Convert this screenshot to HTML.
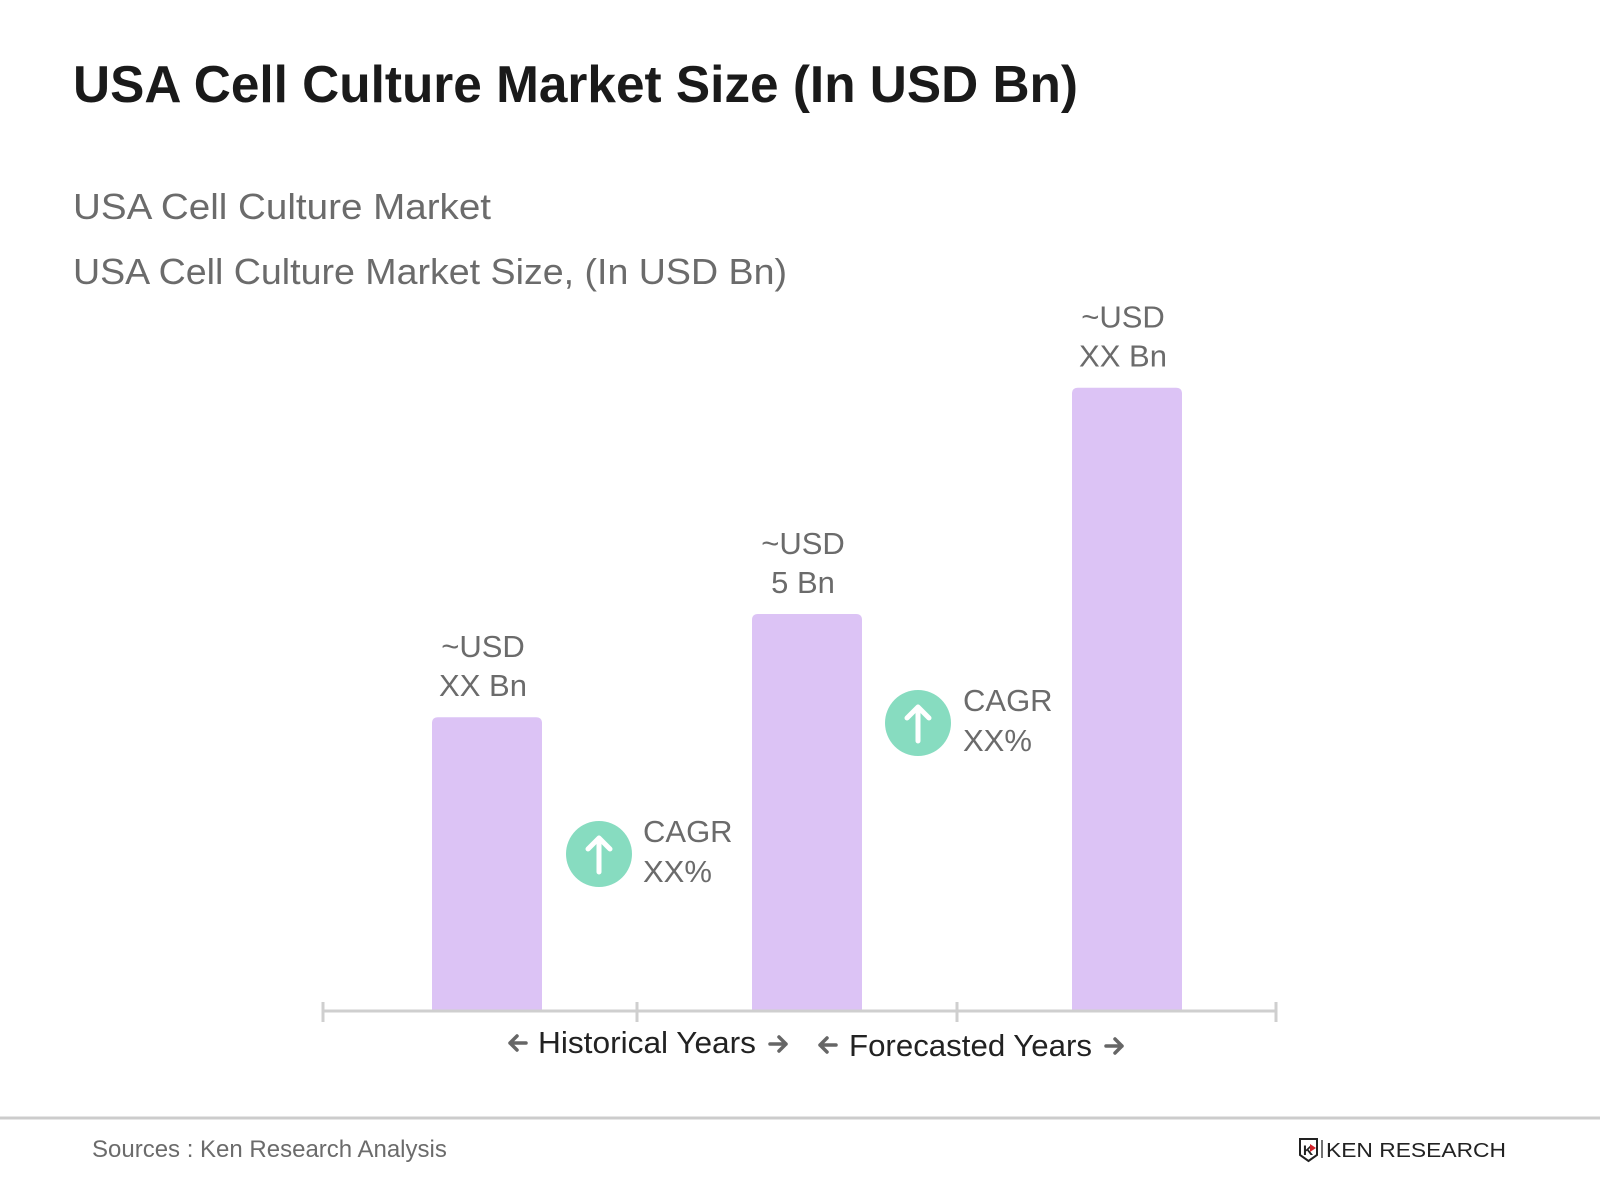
<!DOCTYPE html>
<html><head><meta charset="utf-8"><style>
html,body{margin:0;padding:0;background:#fff;width:1600px;height:1200px;overflow:hidden}
svg{display:block;font-family:"Liberation Sans",sans-serif}
</style></head><body>
<svg width="1600" height="1200" viewBox="0 0 1600 1200">
<text x="73" y="102" font-size="52" font-weight="bold" fill="#1a1a1a" textLength="1005" lengthAdjust="spacingAndGlyphs">USA Cell Culture Market Size (In USD Bn)</text>
<text x="73" y="219" font-size="36" fill="#6b6b6b" textLength="418" lengthAdjust="spacingAndGlyphs">USA Cell Culture Market</text>
<text x="73" y="284" font-size="36" fill="#6b6b6b" textLength="714" lengthAdjust="spacingAndGlyphs">USA Cell Culture Market Size, (In USD Bn)</text>
<g id="bars"></g>
<line x1="323" y1="1011" x2="1276" y2="1011" stroke="#cfcfcf" stroke-width="3"/>
<g stroke="#cfcfcf" stroke-width="3">
<line x1="323" y1="1002" x2="323" y2="1022"/><line x1="637" y1="1002" x2="637" y2="1022"/><line x1="957" y1="1002" x2="957" y2="1022"/><line x1="1276" y1="1002" x2="1276" y2="1022"/>
</g>
<g>
<circle cx="599" cy="854" r="33" fill="#87dcc0"/>
<path d="M599 872 V838 M588 849 L599 838 L610 849" stroke="#fff" stroke-width="5" stroke-linecap="round" stroke-linejoin="round" fill="none"/>
<text x="643" y="842" font-size="31" fill="#6b6b6b">CAGR</text>
<text x="643" y="882" font-size="31" fill="#6b6b6b">XX%</text>
</g>
<g>
<circle cx="918" cy="723" r="33" fill="#87dcc0"/>
<path d="M918 741 V707 M907 718 L918 707 L929 718" stroke="#fff" stroke-width="5" stroke-linecap="round" stroke-linejoin="round" fill="none"/>
<text x="963" y="711" font-size="31" fill="#6b6b6b">CAGR</text>
<text x="963" y="751" font-size="31" fill="#6b6b6b">XX%</text>
</g>
<g font-size="31" fill="#222">
<text x="538" y="1053" textLength="218" lengthAdjust="spacingAndGlyphs">Historical Years</text>
<text x="849" y="1056" textLength="243" lengthAdjust="spacingAndGlyphs">Forecasted Years</text>
</g>
<g stroke="#666" stroke-width="3.5" fill="none" stroke-linecap="round" stroke-linejoin="round">
<path d="M526 1043 H510 M517 1036 L510 1043 L517 1050"/>
<path d="M770 1044 H786 M779 1037 L786 1044 L779 1051"/>
<path d="M836 1045 H820 M827 1038 L820 1045 L827 1052"/>
<path d="M1106 1046 H1122 M1115 1039 L1122 1046 L1115 1053"/>
</g>
<line x1="0" y1="1118" x2="1600" y2="1118" stroke="#cccccc" stroke-width="3"/>
<text x="92" y="1157" font-size="24" fill="#6b6b6b">Sources : Ken Research Analysis</text>
<g>
<path d="M1300 1139 H1317 V1155 L1308.5 1161 L1300 1155 Z" fill="none" stroke="#222" stroke-width="2"/>
<text x="1303" y="1155" font-size="14" font-weight="bold" fill="#222">K</text>
<path d="M1310 1144 L1316 1148 L1310 1152 Z" fill="#d2232a"/>
<line x1="1322" y1="1140" x2="1322" y2="1158" stroke="#444" stroke-width="1.5"/>
<text x="1326" y="1157" font-size="20" fill="#222" textLength="180" lengthAdjust="spacingAndGlyphs">KEN RESEARCH</text>
</g>
</svg>
<script>
const categories = ["Historical", "Current", "Forecast"];
const values = [3.7, 5.0, 7.85];
const labelTop = ["~USD", "~USD", "~USD"];
const labelBottom = ["XX Bn", "5 Bn", "XX Bn"];
const NS = "http://www.w3.org/2000/svg";
const baseY = 1011, pxPerUnit = 79.4;
function yScale(v){ return baseY - v * pxPerUnit; }
function xScale(i){ return 432 + i * 320; }
const barW = 110;
const g = document.getElementById('bars');
values.forEach((v,i)=>{
  const x = xScale(i), y = yScale(v);
  const r = document.createElementNS(NS,'path');
  r.setAttribute('d',`M${x} ${baseY} V${y+6} Q${x} ${y} ${x+6} ${y} H${x+barW-6} Q${x+barW} ${y} ${x+barW} ${y+6} V${baseY} Z`);
  r.setAttribute('fill','#dcc3f5');
  
  
  g.appendChild(r);
  [[labelTop[i], y-60],[labelBottom[i], y-21]].forEach(([t,ty],k)=>{
    const tx = document.createElementNS(NS,'text');
    tx.setAttribute('x', x + barW/2 - 4);
    tx.setAttribute('y', ty);
    tx.setAttribute('text-anchor','middle');
    tx.setAttribute('font-size','31');
    tx.setAttribute('fill','#6b6b6b');
    tx.textContent = t;
    
    
    g.appendChild(tx);
  });
});
</script>
</body></html>
